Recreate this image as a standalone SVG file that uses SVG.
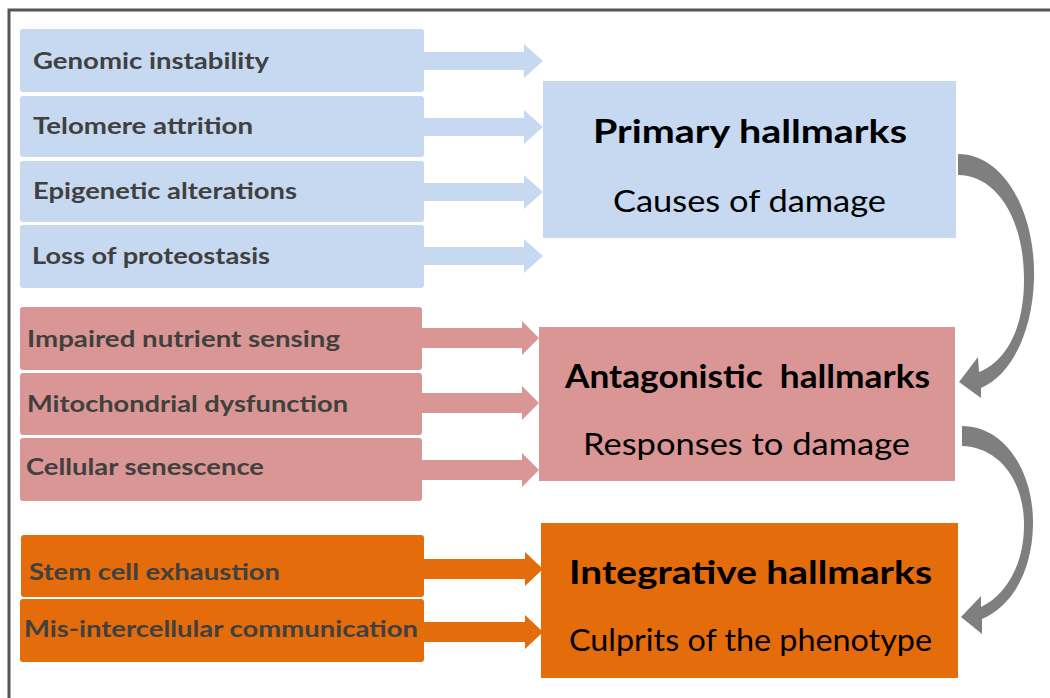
<svg xmlns="http://www.w3.org/2000/svg" width="1050" height="698" viewBox="0 0 1050 698">
<style>
.blue{fill:#c6d9f0}
.red{fill:#d99694}
.orange{fill:#e46c0a}
.lbl{font-family:Lato,"Liberation Sans",sans-serif;font-weight:bold;font-size:23.5px;fill:#404040}
.ttl{font-family:Lato,"Liberation Sans",sans-serif;font-weight:bold;font-size:33px;fill:#000}
.sub{font-family:Lato,"Liberation Sans",sans-serif;font-size:30px;fill:#000}
.curve{fill:#7f7f7f}
</style>
<rect width="1050" height="698" fill="#fff"/>
<path d="M1050 10 H9 V698" fill="none" stroke="#555" stroke-width="3"/>

<g id="genomic"><rect class="blue" x="20" y="29" width="404" height="63" rx="3"/><text class="lbl" x="33" y="69" textLength="236" lengthAdjust="spacingAndGlyphs">Genomic instability</text></g>
<g id="telomere"><rect class="blue" x="20" y="96" width="404" height="61" rx="3"/><text class="lbl" x="33" y="134" textLength="220" lengthAdjust="spacingAndGlyphs">Telomere attrition</text></g>
<g id="epigenetic"><rect class="blue" x="20" y="161" width="404" height="61" rx="3"/><text class="lbl" x="33" y="199" textLength="264" lengthAdjust="spacingAndGlyphs">Epigenetic alterations</text></g>
<g id="proteostasis"><rect class="blue" x="20" y="225" width="404" height="63" rx="3"/><text class="lbl" x="32" y="264" textLength="238" lengthAdjust="spacingAndGlyphs">Loss of proteostasis</text></g>

<g id="nutrient"><rect class="red" x="20" y="307" width="402" height="63" rx="3"/><text class="lbl" x="27" y="347" textLength="313" lengthAdjust="spacingAndGlyphs">Impaired nutrient sensing</text></g>
<g id="mitochondrial"><rect class="red" x="20" y="373" width="402" height="62" rx="3"/><text class="lbl" x="27" y="412" textLength="321" lengthAdjust="spacingAndGlyphs">Mitochondrial dysfunction</text></g>
<g id="senescence"><rect class="red" x="20" y="438" width="402" height="63" rx="3"/><text class="lbl" x="26" y="475" textLength="238" lengthAdjust="spacingAndGlyphs">Cellular senescence</text></g>

<g id="stemcell"><rect class="orange" x="21" y="535" width="403" height="62" rx="3"/><text class="lbl" x="29" y="580" textLength="251" lengthAdjust="spacingAndGlyphs">Stem cell exhaustion</text></g>
<g id="communication"><rect class="orange" x="20" y="599" width="404" height="63" rx="3"/><text class="lbl" x="24" y="637" textLength="394" lengthAdjust="spacingAndGlyphs">Mis-intercellular communication</text></g>

<g id="primary"><rect class="blue" x="543" y="81" width="413" height="157"/><text class="ttl" x="593" y="143" textLength="314" lengthAdjust="spacingAndGlyphs">Primary hallmarks</text><text class="sub" x="613" y="212" textLength="273" lengthAdjust="spacingAndGlyphs">Causes of damage</text></g>
<g id="antagonistic"><rect class="red" x="539" y="327" width="416" height="154"/><text class="ttl" x="565" y="388" textLength="365" lengthAdjust="spacingAndGlyphs" xml:space="preserve">Antagonistic  hallmarks</text><text class="sub" x="583" y="455" textLength="327" lengthAdjust="spacingAndGlyphs">Responses to damage</text></g>
<g id="integrative"><rect class="orange" x="541" y="523" width="417" height="155"/><text class="ttl" x="569" y="584" textLength="363" lengthAdjust="spacingAndGlyphs">Integrative hallmarks</text><text class="sub" x="569" y="651" textLength="363" lengthAdjust="spacingAndGlyphs">Culprits of the phenotype</text></g>

<g id="connectors">
<polygon class="blue" points="424,52 524,52 524,44 543,61 524,78 524,70 424,70"/>
<polygon class="blue" points="424,118 524,118 524,110 543,127 524,144 524,136 424,136"/>
<polygon class="blue" points="424,183 524,183 524,175 543,192 524,209 524,201 424,201"/>
<polygon class="blue" points="424,247 524,247 524,239 543,256 524,273 524,265 424,265"/>
<polygon class="red" points="422,328 522,328 522,321 539,338 522,355 522,348 422,348"/>
<polygon class="red" points="422,393 522,393 522,386 539,403 522,420 522,413 422,413"/>
<polygon class="red" points="422,460 522,460 522,453 539,470 522,487 522,480 422,480"/>
<polygon class="orange" points="424,559 525,559 525,552 543,569 525,586 525,579 424,579"/>
<polygon class="orange" points="424,622 525,622 525,615 543,632 525,649 525,642 424,642"/>
<path class="curve" d="M958 154 C1004 154 1036 212 1034 280 C1032 335 1010 376 981 388 L981 398 L959 382 L978 357 L979 372 C1005 362 1024 330 1024 280 C1024 216 995 175 958 175 Z"/>
<path class="curve" d="M962 426 C1005 426 1034 472 1033 525 C1032 572 1012 606 982 619 L982 634 L961 617 L981 596 L981 607 C1005 596 1024 566 1024 525 C1024 479 998 447 962 446 Z"/>
</g>
</svg>
